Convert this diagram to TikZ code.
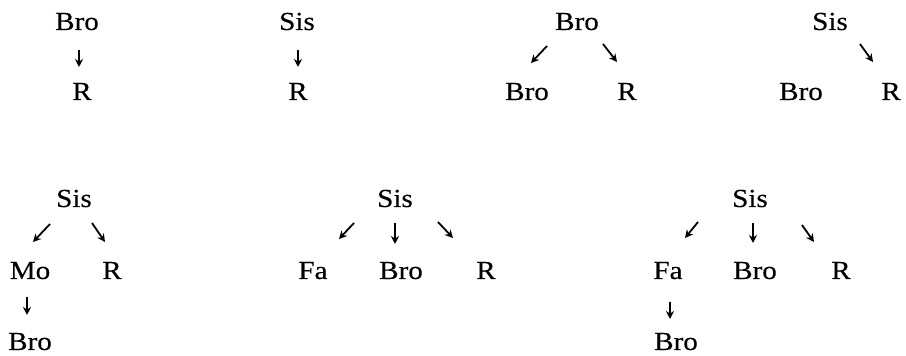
\documentclass[tikz,border=0pt]{standalone}
\usepackage{fontspec}
\setmainfont{Liberation Serif}[FakeStretch=1.12,FakeBold=0.3]
\usetikzlibrary{arrows.meta}
\begin{document}
\begin{tikzpicture}[x=0.5pt,y=-0.5pt,
  lbl/.style={anchor=base,inner sep=0pt,font=\fontsize{13}{15}\selectfont},
  arr/.style={line width=0.9pt,-{Stealth[length=4pt,width=4pt]}}]
\useasboundingbox (0,0) rectangle (906,356);
% row 1
\node[lbl] (a1) at (77,30) {Bro};
\node[lbl] (a2) at (82,100) {R};
\coordinate (a1s) at (79,50); \coordinate (a2n) at (79,67);
\draw[arr] (a1s) -- (a2n);

\node[lbl] (b1) at (297,30) {Sis};
\node[lbl] (b2) at (298,100) {R};
\coordinate (b1s) at (298,50); \coordinate (b2n) at (298,67);
\draw[arr] (b1s) -- (b2n);

\node[lbl] (c1) at (577,30) {Bro};
\node[lbl] (c2) at (527,100) {Bro};
\node[lbl] (c3) at (627,100) {R};
\coordinate (c1l) at (547,46); \coordinate (c2n) at (531,63);
\coordinate (c1r) at (603,44); \coordinate (c3n) at (617,62);
\draw[arr] (c1l) -- (c2n);
\draw[arr] (c1r) -- (c3n);

\node[lbl] (d1) at (830,30) {Sis};
\node[lbl] (d2) at (801,100) {Bro};
\node[lbl] (d3) at (891,100) {R};
\coordinate (d1r) at (860,44); \coordinate (d3n) at (873,62);
\draw[arr] (d1r) -- (d3n);

% row 2
\node[lbl] (e1) at (74,207) {Sis};
\node[lbl] (e2) at (30,279) {Mo};
\node[lbl] (e3) at (112,279) {R};
\node[lbl] (e4) at (30,350) {Bro};
\coordinate (e1l) at (50,224); \coordinate (e2n) at (33,242);
\coordinate (e1r) at (92,223); \coordinate (e3n) at (105,242);
\coordinate (e2s) at (27,297); \coordinate (e4n) at (27,315);
\draw[arr] (e1l) -- (e2n);
\draw[arr] (e1r) -- (e3n);
\draw[arr] (e2s) -- (e4n);

\node[lbl] (f1) at (395,207) {Sis};
\node[lbl] (f2) at (313,279) {Fa};
\node[lbl] (f3) at (401,279) {Bro};
\node[lbl] (f4) at (486,279) {R};
\coordinate (f1l) at (354,223); \coordinate (f2n) at (339,239);
\coordinate (f1m) at (395,223); \coordinate (f3n) at (395,244);
\coordinate (f1r) at (438,222); \coordinate (f4n) at (453,238);
\draw[arr] (f1l) -- (f2n);
\draw[arr] (f1m) -- (f3n);
\draw[arr] (f1r) -- (f4n);

\node[lbl] (g1) at (750,207) {Sis};
\node[lbl] (g2) at (668,279) {Fa};
\node[lbl] (g3) at (755,279) {Bro};
\node[lbl] (g4) at (841,279) {R};
\node[lbl] (g5) at (676,350) {Bro};
\coordinate (g1l) at (698,222); \coordinate (g2n) at (685,238);
\coordinate (g1m) at (753,223); \coordinate (g3n) at (753,243);
\coordinate (g1r) at (802,225); \coordinate (g4n) at (814,242);
\coordinate (g2s) at (670,302); \coordinate (g5n) at (670,319);
\draw[arr] (g1l) -- (g2n);
\draw[arr] (g1m) -- (g3n);
\draw[arr] (g1r) -- (g4n);
\draw[arr] (g2s) -- (g5n);
\end{tikzpicture}
\end{document}
